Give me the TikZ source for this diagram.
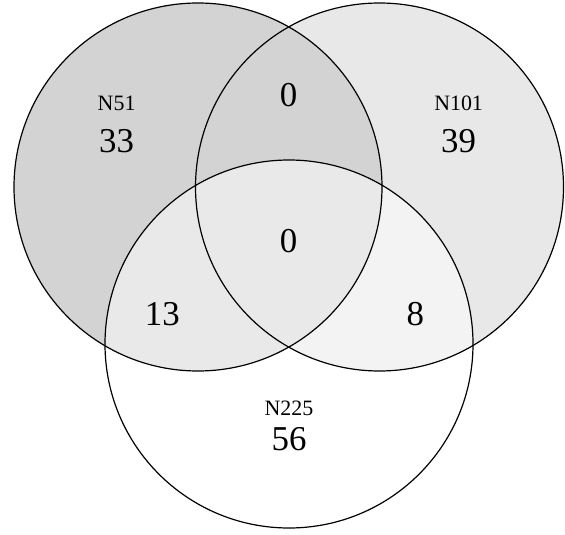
\documentclass[tikz,border=0pt]{standalone}
\usepackage{fontspec}
\setmainfont{Liberation Serif}
\definecolor{setA}{RGB}{211,211,211}
\definecolor{setB}{RGB}{232,232,232}

\begin{document}
\begin{tikzpicture}[x=1bp,y=-1bp,
  setname/.style={font=\fontsize{22}{22}\selectfont},
  setcount/.style={font=\fontsize{35}{35}\selectfont}]
  \useasboundingbox (0,0) rectangle (565,535);
  \coordinate (cA) at (198,187);
  \coordinate (cB) at (379.5,187);
  \coordinate (cC) at (289,344);
  \fill[setB] (cB) circle (184bp);
  \fill[setA] (cA) circle (184bp);
  \fill[white, fill opacity=0.5] (cC) circle (184bp);
  \draw[line width=1.2bp] (cA) circle (184bp);
  \draw[line width=1.2bp] (cB) circle (184bp);
  \draw[line width=1.2bp] (cC) circle (184bp);
  \node[setname] (nA) at (116.6,103.7) {N51};
  \node[setcount] (kA) at (116.6,140.8) {33};
  \node[setname] (nB) at (458.6,103.7) {N101};
  \node[setcount] (kB) at (458.6,140.8) {39};
  \node[setname] (nC) at (289,408) {N225};
  \node[setcount] (kC) at (289,439) {56};
  \node[setcount] (kAB) at (288.7,95.5) {0};
  \node[setcount] (kABC) at (288.7,241) {0};
  \node[setcount] (kAC) at (162.3,314) {13};
  \node[setcount] (kBC) at (415.4,314) {8};
\end{tikzpicture}
\end{document}
